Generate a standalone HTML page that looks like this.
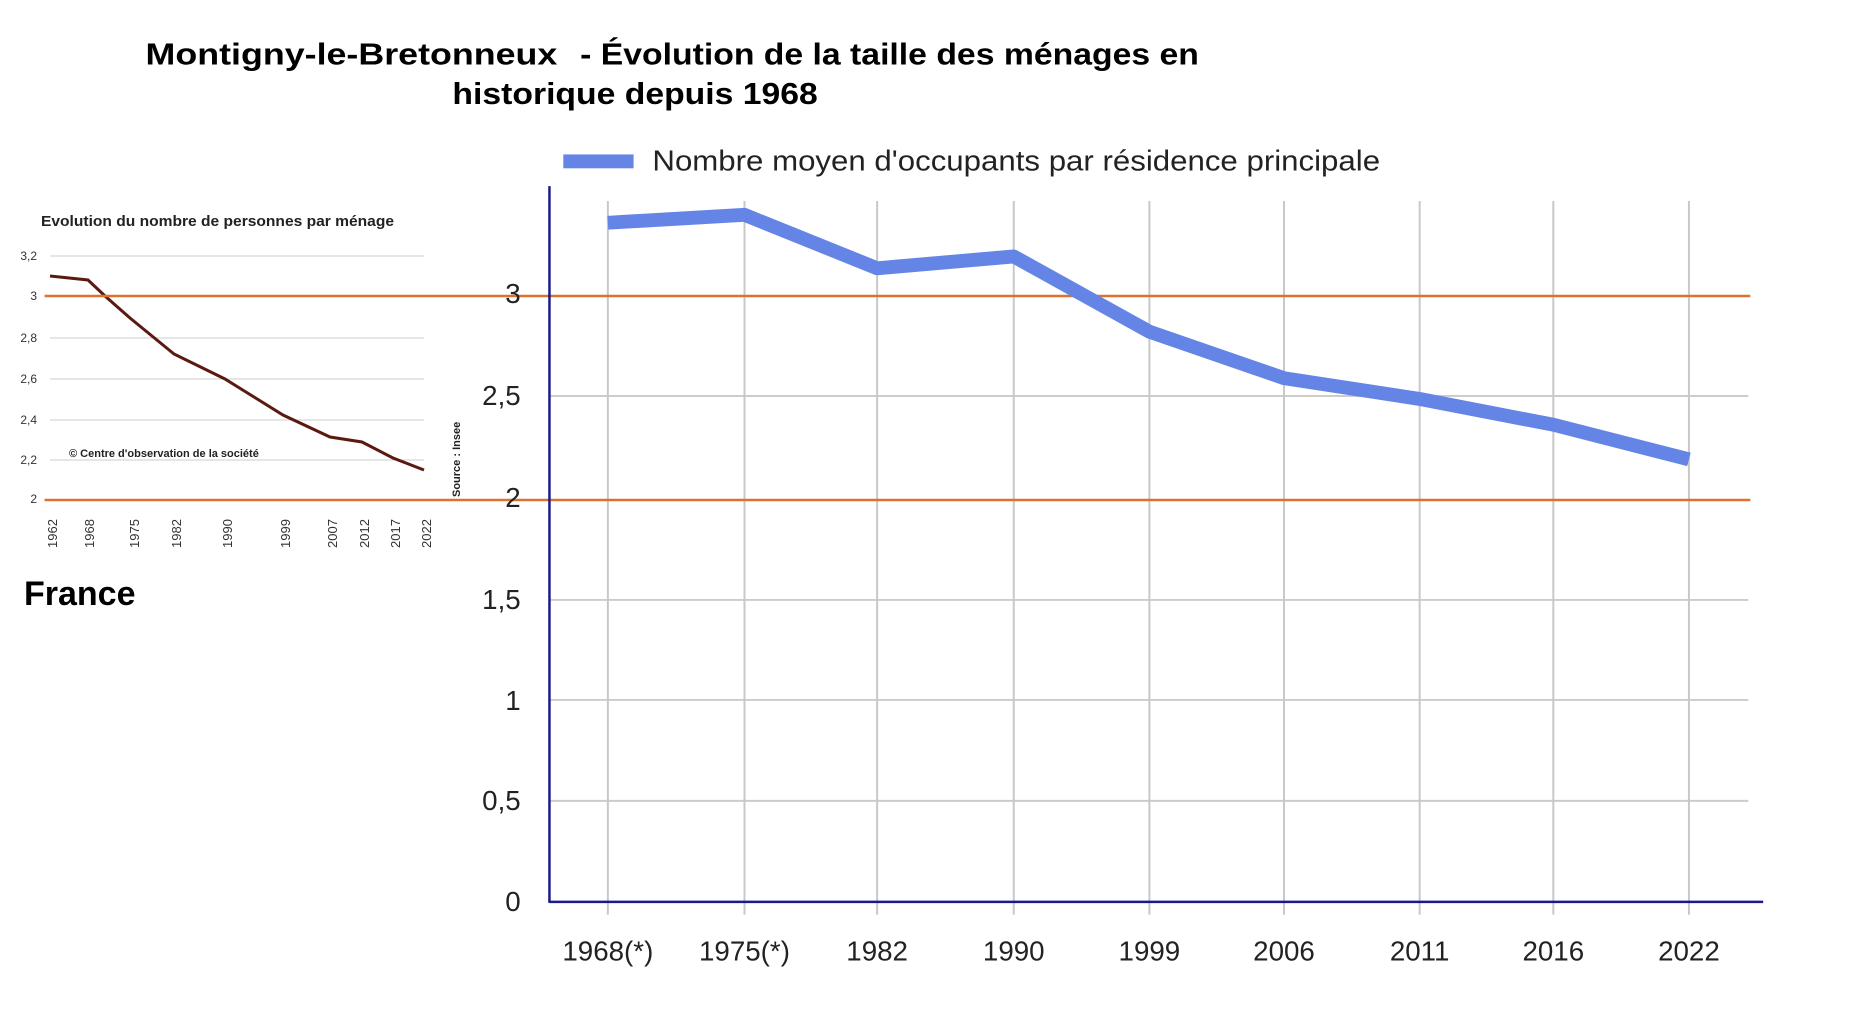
<!DOCTYPE html>
<html><head><meta charset="utf-8"><style>
html,body{margin:0;padding:0;background:#fff;width:1852px;height:1030px;overflow:hidden}
svg{display:block}
</style></head><body>
<svg width="1852" height="1030" viewBox="0 0 1852 1030" xmlns="http://www.w3.org/2000/svg" font-family="Liberation Sans, sans-serif">
<g transform="scale(0.99)">
<!-- Title -->
<text x="147" y="65" font-size="31" font-weight="bold" fill="#000" textLength="416" lengthAdjust="spacingAndGlyphs">Montigny-le-Bretonneux</text>
<text x="586" y="65" font-size="31" font-weight="bold" fill="#000" textLength="625" lengthAdjust="spacingAndGlyphs">- Évolution de la taille des ménages en</text>
<text x="457" y="105" font-size="31" font-weight="bold" fill="#000" textLength="369" lengthAdjust="spacingAndGlyphs">historique depuis 1968</text>
</g>

<!-- Small France chart -->
<text x="41" y="226" font-size="15" font-weight="bold" fill="#222" textLength="353" lengthAdjust="spacingAndGlyphs">Evolution du nombre de personnes par ménage</text>
<g stroke="#ccc" stroke-width="1">
<line x1="50" y1="256" x2="424" y2="256"/><line x1="50" y1="338" x2="424" y2="338"/>
<line x1="50" y1="379" x2="424" y2="379"/><line x1="50" y1="420" x2="424" y2="420"/>
<line x1="50" y1="460" x2="424" y2="460"/>
</g>
<g font-size="12" fill="#333" text-anchor="end">
<text x="37" y="260">3,2</text><text x="37" y="300">3</text><text x="37" y="342">2,8</text>
<text x="37" y="383">2,6</text><text x="37" y="424">2,4</text><text x="37" y="464">2,2</text><text x="37" y="503">2</text>
</g>
<g font-size="13" fill="#333">
<text transform="translate(57,548) rotate(-90)">1962</text>
<text transform="translate(94,548) rotate(-90)">1968</text>
<text transform="translate(139,548) rotate(-90)">1975</text>
<text transform="translate(181,548) rotate(-90)">1982</text>
<text transform="translate(232,548) rotate(-90)">1990</text>
<text transform="translate(290,548) rotate(-90)">1999</text>
<text transform="translate(337,548) rotate(-90)">2007</text>
<text transform="translate(369,548) rotate(-90)">2012</text>
<text transform="translate(400,548) rotate(-90)">2017</text>
<text transform="translate(431,548) rotate(-90)">2022</text>
</g>
<polyline points="50,276 88,280 105,296 130,318 174,354 225,379 283,415 330,437 362,442 393,458 424,470" fill="none" stroke="#5a1a10" stroke-width="3"/>
<text x="69" y="457" font-size="11" font-weight="bold" fill="#222">© Centre d'observation de la société</text>
<text transform="translate(460,497) rotate(-90)" font-size="11" font-weight="bold" fill="#222">Source : Insee</text>
<text x="24" y="605" font-size="34" font-weight="bold" fill="#000">France</text>

<g transform="scale(0.99)">
<!-- Main chart grid -->
<g stroke="#ccc" stroke-width="2">
<line x1="555" y1="809" x2="1766" y2="809"/><line x1="555" y1="707" x2="1766" y2="707"/>
<line x1="555" y1="606" x2="1766" y2="606"/><line x1="555" y1="400" x2="1766" y2="400"/>
</g>
<g stroke="#c8c8c8" stroke-width="2">
<line x1="614" y1="203" x2="614" y2="924"/><line x1="752" y1="203" x2="752" y2="924"/>
<line x1="886" y1="203" x2="886" y2="924"/><line x1="1024" y1="203" x2="1024" y2="924"/>
<line x1="1161" y1="203" x2="1161" y2="924"/><line x1="1297" y1="203" x2="1297" y2="924"/>
<line x1="1434" y1="203" x2="1434" y2="924"/><line x1="1569" y1="203" x2="1569" y2="924"/>
<line x1="1706" y1="203" x2="1706" y2="924"/>
</g>
<g stroke="#e07030" stroke-width="2.5">
<line x1="45" y1="299" x2="1768" y2="299"/>
<line x1="45" y1="505" x2="1768" y2="505"/>
</g>
<line x1="555" y1="188" x2="555" y2="912" stroke="#1a1a8a" stroke-width="2.5"/>
<line x1="555" y1="911" x2="1781" y2="911" stroke="#1a1a8a" stroke-width="2.5"/>
<g font-size="28" fill="#222" text-anchor="end">
<text x="526" y="306">3</text><text x="526" y="409">2,5</text><text x="526" y="512">2</text>
<text x="526" y="615">1,5</text><text x="526" y="717">1</text><text x="526" y="818">0,5</text><text x="526" y="920">0</text>
</g>
<g font-size="28" fill="#222" text-anchor="middle">
<text x="614" y="970">1968(*)</text><text x="752" y="970">1975(*)</text><text x="886" y="970">1982</text>
<text x="1024" y="970">1990</text><text x="1161" y="970">1999</text><text x="1297" y="970">2006</text>
<text x="1434" y="970">2011</text><text x="1569" y="970">2016</text><text x="1706" y="970">2022</text>
</g>
<polyline points="614,225 752,217 886,271 1024,259 1161,335 1297,382 1434,403 1569,429 1706,464" fill="none" stroke="#6585e6" stroke-width="14" stroke-linejoin="round"/>
<!-- Legend -->
<rect x="569" y="156" width="71" height="14" fill="#6585e6"/>
<text x="659" y="172" font-size="29" fill="#222" textLength="735" lengthAdjust="spacingAndGlyphs">Nombre moyen d'occupants par résidence principale</text>
</g>
</svg>
</body></html>
